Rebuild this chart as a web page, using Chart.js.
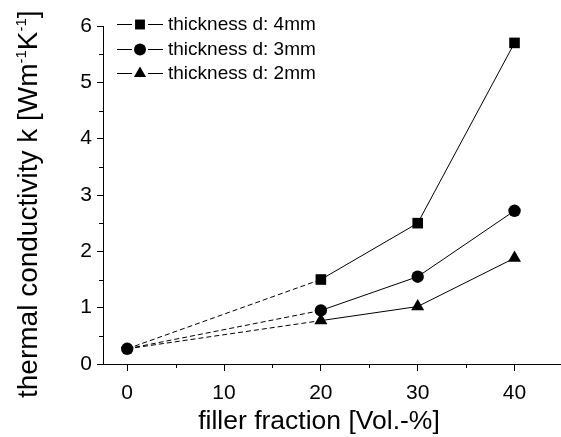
<!DOCTYPE html>
<html><head><meta charset="utf-8">
<style>html,body{margin:0;padding:0;background:#fff}#wrap{width:561px;height:437px}</style>
<script src="https://cdn.jsdelivr.net/npm/chart.js@4/dist/chart.umd.min.js"></script>
</head><body><div id="wrap"><canvas id="c" width="561" height="437"></canvas></div>
<script>
// ---- data ----
const fillerFraction = [0, 20, 30, 40];
const seriesLabels = ['thickness d: 4mm', 'thickness d: 3mm', 'thickness d: 2mm'];
const k4mm = [0.27, 1.50, 2.50, 5.70];
const k3mm = [0.27, 0.95, 1.55, 2.72];
const k2mm = [0.27, 0.77, 1.02, 1.88];
const xTicks = [0, 10, 20, 30, 40];
const xMinorTicks = [5, 15, 25, 35];
const yTicks = [0, 1, 2, 3, 4, 5, 6];
const yMinorTicks = [0.5, 1.5, 2.5, 3.5, 4.5, 5.5];
const xTitle = 'filler fraction [Vol.-%]';
const yTitleParts = [['thermal conductivity k [Wm', 0], ['-1', 1], ['K', 0], ['-1', 1], [']', 0]];

const FONT = '"Liberation Sans", Arial, Helvetica, sans-serif';
const toPts = arr => arr.map((v, i) => ({x: fillerFraction[i], y: v}));
const dash = ctx => ctx.p0DataIndex === 0 ? [5, 3] : undefined;

function mk(label, data, style, radius, order, hideFirst) {
  return {
    label, data: toPts(data), order,
    borderColor: '#000', borderWidth: 1, backgroundColor: '#000',
    pointStyle: style,
    pointRadius: ctx => (hideFirst && ctx.dataIndex === 0) ? 0 : radius,
    pointBackgroundColor: '#000', pointBorderColor: '#000', pointBorderWidth: 0,
    segment: {borderDash: dash},
    fill: false, tension: 0
  };
}

const minorTicks = {
  id: 'minorTicks',
  afterDraw(chart) {
    const ctx = chart.ctx, xs = chart.scales.x, ys = chart.scales.y;
    const a = chart.chartArea;
    ctx.save();
    ctx.strokeStyle = '#000'; ctx.lineWidth = 1;
    ctx.beginPath();
    xMinorTicks.forEach(v => { const p = Math.round(xs.getPixelForValue(v)) + 0.5; ctx.moveTo(p, a.bottom); ctx.lineTo(p, a.bottom + 4); });
    yMinorTicks.forEach(v => { const p = Math.round(ys.getPixelForValue(v)) + 0.5; ctx.moveTo(a.left, p); ctx.lineTo(a.left - 4, p); });
    ctx.stroke();
    ctx.restore();
  }
};

function drawMarker(ctx, style, x, y, r) {
  ctx.beginPath();
  if (style === 'rect') { const s = Math.SQRT1_2 * r; ctx.rect(x - s, y - s, 2 * s, 2 * s); }
  else if (style === 'circle') { ctx.arc(x, y, r, 0, Math.PI * 2); }
  else if (style === 'triangle') {
    ctx.moveTo(x, y - r);
    ctx.lineTo(x + r * Math.sin(Math.PI / 3), y + r / 2);
    ctx.lineTo(x - r * Math.sin(Math.PI / 3), y + r / 2);
    ctx.closePath();
  }
  ctx.fill();
}

const customLegendTitles = {
  id: 'customLegendTitles',
  afterDraw(chart) {
    const ctx = chart.ctx;
    ctx.save();
    ctx.fillStyle = '#000'; ctx.strokeStyle = '#000'; ctx.lineWidth = 1;
    // legend
    const rowsY = [24, 49, 73];
    const styles = ['rect', 'circle', 'triangle'];
    const radii = [7, 6, 7];
    chart.data.datasets.forEach((ds, i) => {
      const y = rowsY[i];
      ctx.beginPath();
      ctx.moveTo(117, y + 0.5); ctx.lineTo(132, y + 0.5);
      ctx.moveTo(148, y + 0.5); ctx.lineTo(163, y + 0.5);
      ctx.stroke();
      drawMarker(ctx, styles[i], 140, y + 0.5, radii[i]);
      ctx.font = '19px ' + FONT; ctx.textBaseline = 'middle'; ctx.textAlign = 'left';
      ctx.fillText(ds.label, 168, y + 1);
    });
    // x title
    ctx.font = '26.5px ' + FONT; ctx.textAlign = 'center'; ctx.textBaseline = 'alphabetic';
    ctx.fillText(xTitle, 319, 429);
    // y title
    ctx.translate(37, 398); ctx.rotate(-Math.PI / 2);
    ctx.textAlign = 'left';
    let x = 0;
    yTitleParts.forEach(([t, sup]) => {
      ctx.font = (sup ? '15px ' : '28px ') + FONT;
      ctx.fillText(t, x, sup ? -11 : 0);
      x += ctx.measureText(t).width;
    });
    ctx.restore();
  }
};

new Chart(document.getElementById('c'), {
  type: 'line',
  data: {
    datasets: [
      mk(seriesLabels[0], k4mm, 'rect', 7.5, 2, true),
      mk(seriesLabels[1], k3mm, 'circle', 6.2, 0, false),
      mk(seriesLabels[2], k2mm, 'triangle', 7.5, 1, true)
    ]
  },
  options: {
    responsive: false, animation: false, devicePixelRatio: 1,
    layout: {autoPadding: false, padding: {top: 26, left: 0, right: 0, bottom: 0}},
    plugins: {legend: {display: false}, tooltip: {enabled: false}},
    scales: {
      x: {
        type: 'linear', min: -2.5, max: 44.8,
        afterBuildTicks: s => { s.ticks = xTicks.map(v => ({value: v})); },
        afterFit: s => { s.height = 73; },
        grid: {drawOnChartArea: false, drawTicks: true, tickLength: 7, color: '#000', tickWidth: 1},
        border: {display: true, color: '#000', width: 1},
        ticks: {color: '#000', font: {family: FONT, size: 21}, padding: 10, maxRotation: 0}
      },
      y: {
        type: 'linear', min: 0, max: 6,
        afterBuildTicks: s => { s.ticks = yTicks.map(v => ({value: v})); },
        afterFit: s => { s.width = 103; },
        grid: {drawOnChartArea: false, drawTicks: true, tickLength: 6, color: '#000', tickWidth: 1},
        border: {display: true, color: '#000', width: 1},
        ticks: {color: '#000', font: {family: FONT, size: 21}, padding: 5}
      }
    }
  },
  plugins: [minorTicks, customLegendTitles]
});
</script>
</body></html>
